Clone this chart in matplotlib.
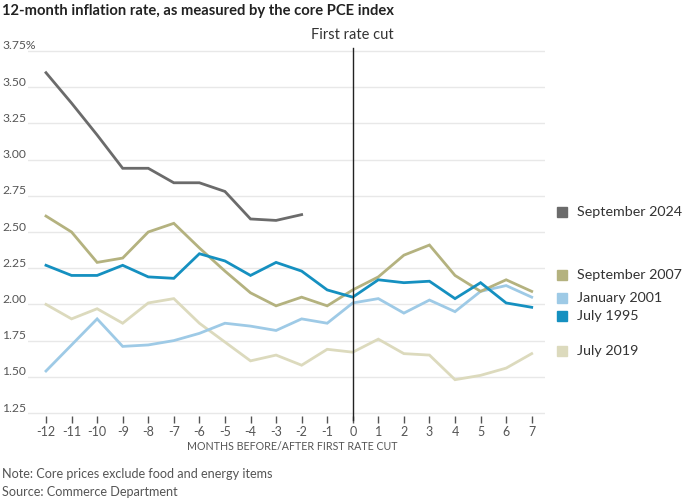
import matplotlib
matplotlib.use("Agg")
import matplotlib.pyplot as plt
import matplotlib.transforms as mtransforms

plt.rcParams['font.family'] = ['Lato', 'DejaVu Sans']

# months relative to the first rate cut
months = list(range(-12, 8))
months_2024 = list(range(-12, -1))

sep_2024 = [3.60, 3.39, 3.17, 2.94, 2.94, 2.84, 2.84, 2.78, 2.59, 2.58, 2.62]
sep_2007 = [2.61, 2.50, 2.29, 2.32, 2.50, 2.56, 2.39, 2.23, 2.08, 1.99,
            2.05, 1.99, 2.10, 2.19, 2.34, 2.41, 2.20, 2.09, 2.17, 2.09]
jan_2001 = [1.54, 1.72, 1.90, 1.71, 1.72, 1.75, 1.80, 1.87, 1.85, 1.82,
            1.90, 1.87, 2.01, 2.04, 1.94, 2.03, 1.95, 2.09, 2.13, 2.05]
jul_1995 = [2.27, 2.20, 2.20, 2.27, 2.19, 2.18, 2.35, 2.30, 2.20, 2.29,
            2.23, 2.10, 2.05, 2.17, 2.15, 2.16, 2.04, 2.15, 2.01, 1.98]
jul_2019 = [2.00, 1.90, 1.97, 1.87, 2.01, 2.04, 1.87, 1.74, 1.61, 1.65,
            1.58, 1.69, 1.67, 1.76, 1.66, 1.65, 1.48, 1.51, 1.56, 1.66]

y_ticks = [1.25, 1.50, 1.75, 2.00, 2.25, 2.50, 2.75, 3.00, 3.25, 3.50, 3.75]

# series drawn back to front
series = [
    ('July 2019', months, jul_2019, '#dcdabd'),
    ('January 2001', months, jan_2001, '#9ecae6'),
    ('September 2007', months, sep_2007, '#b4b27f'),
    ('July 1995', months, jul_1995, '#1590c0'),
    ('September 2024', months_2024, sep_2024, '#6b6b6b'),
]
# where each label sits on the right (layout, not data)
legend_y = {'September 2024': 2.64, 'September 2007': 2.20, 'January 2001': 2.045,
            'July 1995': 1.92, 'July 2019': 1.68}

fig = plt.figure(figsize=(6.88, 5.04), dpi=100)
ax = fig.add_axes([28 / 688, 88 / 504, 517 / 688, 368 / 504])
ax.set_xlim(-12.704, 7.52)
ax.set_ylim(1.2293, 3.7707)

for v in y_ticks:
    ax.axhline(v, color='#e8e8e8', lw=1, zorder=0)

for name, xs, ys, color in series:
    ax.plot(xs, ys, color=color, lw=2, solid_joinstyle='miter', zorder=3)

ax.axvline(0, ymin=-0.01, ymax=1.0, color='#222222', lw=1, zorder=4, clip_on=False)

for s in ax.spines.values():
    s.set_visible(False)
ax.set_yticks([])
ax.set_xticks(months)
ax.set_xticklabels([str(m) for m in months])
ax.tick_params(axis='x', length=5, width=1, color='#555555', pad=2,
               labelsize=9, labelcolor='#555555')

# y labels sit on top of the gridlines at the far left
ylab_tr = mtransforms.blended_transform_factory(fig.transFigure, ax.transData)
ylab_tr = ylab_tr + mtransforms.ScaledTranslation(0, 1.5 / 100, fig.dpi_scale_trans)
for v in y_ticks:
    lab = f'{v:.2f}%' if v == 3.75 else f'{v:.2f}'
    ax.text(2 / 688, v, lab, transform=ylab_tr, ha='left', va='baseline',
            fontsize=8.7, color='#555555')

# legend labels to the right of the lines
for name, xs, ys, color in series:
    yv = legend_y[name]
    ax.plot([8.19], [yv], marker='s', ms=6.5, color=color, clip_on=False,
            linestyle='none')
    ax.text(8.77, yv, name, ha='left', va='center', fontsize=10.3,
            color='#333333', clip_on=False)

ax.text(0, 3.86, 'First rate cut', ha='center', va='center', fontsize=10.5,
        color='#333333')

fig.text(2 / 688, 1 - 11 / 504, '12-month inflation rate, as measured by the core PCE index',
         ha='left', va='center', fontsize=10.6, fontweight='bold', color='#222222')
fig.text(292 / 688, 1 - 446 / 504, 'MONTHS BEFORE/AFTER FIRST RATE CUT',
         ha='center', va='center', fontsize=7.7, color='#555555')
fig.text(2 / 688, 1 - 474 / 504, 'Note: Core prices exclude food and energy items',
         ha='left', va='center', fontsize=9.1, color='#555555')
fig.text(2 / 688, 1 - 492 / 504, 'Source: Commerce Department',
         ha='left', va='center', fontsize=9.1, color='#555555')

fig.savefig('out.png', dpi=100)
